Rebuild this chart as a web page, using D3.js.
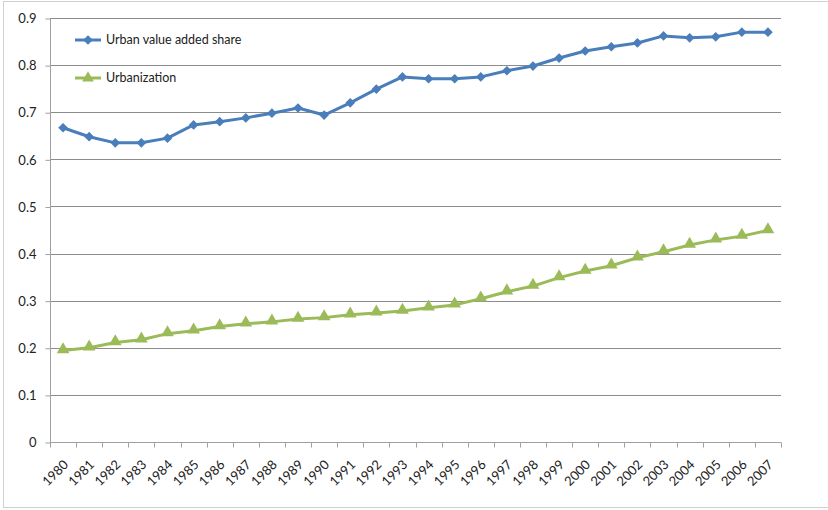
<!DOCTYPE html>
<html>
<head>
<meta charset="utf-8">
<script src="https://cdn.jsdelivr.net/npm/d3@7"></script>
<style>
  body { margin: 0; background: #fff; }
  text { font-family: Lato, "Open Sans", sans-serif; fill: #222; }
</style>
</head>
<body>
<div id="chart"></div>
<script>
// data
var years = ["1980","1981","1982","1983","1984","1985","1986","1987","1988","1989",
             "1990","1991","1992","1993","1994","1995","1996","1997","1998","1999",
             "2000","2001","2002","2003","2004","2005","2006","2007"];
var urbanShare = [0.667,0.648,0.635,0.635,0.645,0.673,0.680,0.688,0.698,0.709,
                  0.694,0.720,0.749,0.775,0.771,0.771,0.775,0.788,0.798,0.815,
                  0.830,0.839,0.847,0.862,0.858,0.860,0.870,0.870];
var urbanization = [0.194,0.200,0.211,0.217,0.230,0.236,0.245,0.251,0.255,0.261,
                    0.264,0.270,0.274,0.278,0.285,0.291,0.304,0.319,0.331,0.349,
                    0.363,0.374,0.391,0.404,0.418,0.429,0.437,0.449];
var yTicks = [0,0.1,0.2,0.3,0.4,0.5,0.6,0.7,0.8,0.9];
var seriesNames = ["Urban value added share", "Urbanization"];

(function() {
  var W = 828, H = 510;
  var pLeft = 50, pRight = 781, pTop = 18, pBottom = 442;

  var svg = d3.select("#chart").append("svg")
    .attr("width", W).attr("height", H);

  // outer border
  svg.append("rect")
    .attr("x", 3.5).attr("y", 1.5)
    .attr("width", W - 3).attr("height", H - 4)
    .attr("fill", "none").attr("stroke", "#d0d0d0");

  var x = d3.scaleBand().domain(years).range([pLeft, pRight]);
  var y = d3.scaleLinear().domain([0, 0.9]).range([pBottom, pTop]);

  // gridlines
  svg.append("g").selectAll("line")
    .data(yTicks.slice(1))
    .enter().append("line")
      .attr("x1", pLeft).attr("x2", pRight)
      .attr("y1", function(d) { return Math.round(y(d)) + 0.5; })
      .attr("y2", function(d) { return Math.round(y(d)) + 0.5; })
      .attr("stroke", "#8c8c8c").attr("stroke-width", 1);

  // y axis
  var yAxis = svg.append("g")
    .attr("transform", "translate(" + (pLeft + 0.5) + ",0.5)")
    .call(d3.axisLeft(y).tickValues(yTicks).tickSize(5)
      .tickFormat(function(d) { return d === 0 ? "0" : d3.format(".1f")(d); }));
  yAxis.select(".domain").attr("stroke", "#a0a0a0").attr("d", "M0," + pTop + "V" + pBottom);
  yAxis.selectAll(".tick line").attr("stroke", "#a0a0a0");
  yAxis.selectAll(".tick text").attr("font-size", 13).attr("x", -14).attr("fill", "#222")
    .style("font-family", "Lato, 'Open Sans', sans-serif");

  // x axis, ticks at band edges
  var xg = svg.append("g").attr("transform", "translate(0," + (pBottom + 0.5) + ")");
  xg.append("line").attr("x1", pLeft).attr("x2", pRight).attr("stroke", "#a0a0a0");
  var edges = years.map(function(d) { return x(d); }).concat([pRight]);
  xg.selectAll("line.tk").data(edges).enter().append("line")
    .attr("class", "tk")
    .attr("x1", function(d) { return Math.round(d) + 0.5; })
    .attr("x2", function(d) { return Math.round(d) + 0.5; })
    .attr("y1", 0).attr("y2", 5)
    .attr("stroke", "#a0a0a0");
  xg.selectAll("text").data(years).enter().append("text")
    .attr("text-anchor", "end")
    .attr("font-size", 13)
    .attr("transform", function(d) {
      return "translate(" + (x(d) + x.bandwidth() / 2 + 6) + ",23) rotate(-45)";
    })
    .text(function(d) { return d; });

  var cx = function(i) { return x(years[i]) + x.bandwidth() / 2; };

  var line = d3.line()
    .x(function(d, i) { return cx(i); })
    .y(function(d) { return y(d); });

  var blue = "#4a7ebb", green = "#9bbb59";

  // series 1
  svg.append("path").datum(urbanShare)
    .attr("d", line).attr("fill", "none")
    .attr("stroke", blue).attr("stroke-width", 3).attr("stroke-linejoin", "round");
  svg.append("g").selectAll("path")
    .data(urbanShare).enter().append("path")
    .attr("d", d3.symbol().type(d3.symbolDiamond2).size(60))
    .attr("transform", function(d, i) { return "translate(" + cx(i) + "," + y(d) + ")"; })
    .attr("fill", blue);

  // series 2
  svg.append("path").datum(urbanization)
    .attr("d", line).attr("fill", "none")
    .attr("stroke", green).attr("stroke-width", 3).attr("stroke-linejoin", "round");
  svg.append("g").selectAll("path")
    .data(urbanization).enter().append("path")
    .attr("d", d3.symbol().type(d3.symbolTriangle).size(70))
    .attr("transform", function(d, i) { return "translate(" + cx(i) + "," + (y(d) - 1) + ")"; })
    .attr("fill", green);

  // legend
  var legend = svg.append("g");
  [[blue, d3.symbolDiamond2, 40], [green, d3.symbolTriangle, 78]].forEach(function(s, i) {
    legend.append("line")
      .attr("x1", 75).attr("x2", 101).attr("y1", s[2]).attr("y2", s[2])
      .attr("stroke", s[0]).attr("stroke-width", 3);
    legend.append("path")
      .attr("d", d3.symbol().type(s[1]).size(60))
      .attr("transform", "translate(88," + s[2] + ")")
      .attr("fill", s[0]);
    legend.append("text")
      .attr("x", 106).attr("y", s[2] + 4)
      .attr("font-size", 12.5)
      .text(seriesNames[i]);
  });
})();
</script>
</body>
</html>
